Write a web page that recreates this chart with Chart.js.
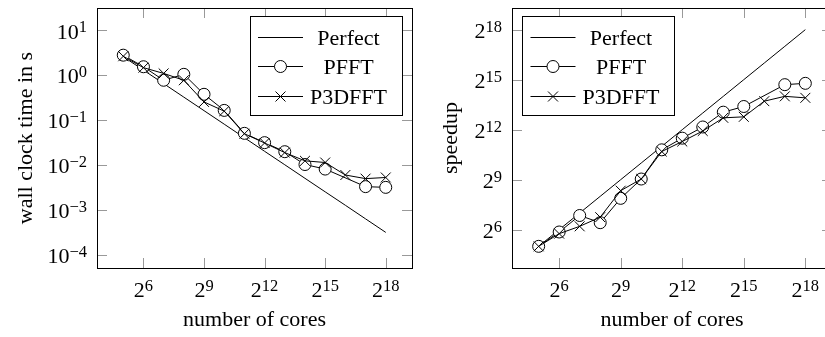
<!DOCTYPE html>
<html>
<head>
<meta charset="utf-8">
<script src="https://cdn.jsdelivr.net/npm/chart.js@4.4.0/dist/chart.umd.min.js"></script>
<style>
html, body { margin: 0; padding: 0; overflow: hidden; background: #fff; width: 825px; height: 337px; }
canvas { position: absolute; top: 0; }
#time-chart { left: 0; }
#speed-chart { left: 420px; }
</style>
</head>
<body>
<canvas id="time-chart" width="420" height="337"></canvas>
<canvas id="speed-chart" width="420" height="337"></canvas>
<script>
// number of cores, 2^5 .. 2^18
const cores = [32, 64, 128, 256, 512, 1024, 2048, 4096, 8192, 16384, 32768, 65536, 131072, 262144];

// wall clock time in s
const timePerfect = [2.55, 1.28, 0.64, 0.32, 0.16, 0.08, 0.0399, 0.0199, 0.00997, 0.00498, 0.00249, 0.00125, 0.000623, 0.000311];
const timePFFT = [2.75, 1.52, 0.76, 1.03, 0.37, 0.162, 0.050, 0.031, 0.0195, 0.0101, 0.0080, null, 0.00325, 0.00313];
const timeP3DFFT = [2.6, 1.45, 1.08, 0.76, 0.25, 0.156, 0.049, 0.0305, 0.0186, 0.0122, 0.0112, 0.0059, 0.0049, 0.0052];

// speedup
const speedPerfect = [32, 64, 128, 256, 512, 1024, 2048, 4096, 8192, 16384, 32768, 65536, 131072, 262144];
const speedPFFT = [32, 58.1, 115.4, 85.6, 235.6, 526, 1770, 2876, 4577, 8478, 10735, null, 26616, 28138];
const speedP3DFFT = [32, 54.2, 73.5, 107.6, 324, 526, 1652, 2504, 3875, 6700, 6984, 13400, 16384, 15392];

// tick labels: base and exponent
const coreTicks = [64, 512, 4096, 32768, 262144];
const coreTickLabels = [['2', '6'], ['2', '9'], ['2', '12'], ['2', '15'], ['2', '18']];
const timeTicks = [10, 1, 0.1, 0.01, 0.001, 0.0001];
const timeTickLabels = [['10', '1'], ['10', '0'], ['10', '\u22121'], ['10', '\u22122'], ['10', '\u22123'], ['10', '\u22124']];
const speedTicks = [64, 512, 4096, 32768, 262144];
const speedTickLabels = [['2', '6'], ['2', '9'], ['2', '12'], ['2', '15'], ['2', '18']];

const seriesNames = ['Perfect', 'PFFT', 'P3DFFT'];

const SERIF = '"Liberation Serif", "Times New Roman", serif';
const BASE_FONT = '22px ' + SERIF;
const EXP_FONT = '16.5px ' + SERIF;

function draw_pow(ctx, base, exp, x, y, align) {
    ctx.font = BASE_FONT;
    let wb = ctx.measureText(base).width;
    ctx.font = EXP_FONT;
    let we = ctx.measureText(exp).width;
    let start = x;
    if (align === 'right') start = x - wb - we;
    if (align === 'center') start = x - (wb + we) / 2;
    ctx.textAlign = 'left';
    ctx.textBaseline = 'alphabetic';
    ctx.font = BASE_FONT;
    ctx.fillText(base, start, y);
    ctx.font = EXP_FONT;
    ctx.fillText(exp, start + wb, y - 6.5);
}

function draw_marker(ctx, style, x, y) {
    ctx.save();
    ctx.strokeStyle = '#000';
    ctx.lineWidth = 1;
    if (style === 'circle') {
        ctx.fillStyle = '#fff';
        ctx.beginPath();
        ctx.arc(x, y, 6, 0, Math.PI * 2);
        ctx.fill();
        ctx.stroke();
    } else if (style === 'crossRot') {
        let d = 5;
        ctx.beginPath();
        ctx.moveTo(x - d, y - d); ctx.lineTo(x + d, y + d);
        ctx.moveTo(x - d, y + d); ctx.lineTo(x + d, y - d);
        ctx.stroke();
    }
    ctx.restore();
}

const pgfAxes = {
    id: 'pgfAxes',
    beforeDatasetsDraw(chart, args, opts) {
        const ctx = chart.ctx;
        const a = chart.chartArea;
        const xs = chart.scales.x, ys = chart.scales.y;
        ctx.save();
        ctx.strokeStyle = '#999';
        ctx.lineWidth = 1;
        ctx.beginPath();
        opts.xTicks.forEach(v => {
            let px = Math.round(xs.getPixelForValue(v)) + 0.5;
            ctx.moveTo(px, a.bottom); ctx.lineTo(px, a.bottom - 10);
            ctx.moveTo(px, a.top); ctx.lineTo(px, a.top + 10);
        });
        opts.yTicks.forEach(v => {
            let py = Math.round(ys.getPixelForValue(v)) + 0.5;
            ctx.moveTo(a.left, py); ctx.lineTo(a.left + 10, py);
            ctx.moveTo(a.right, py); ctx.lineTo(a.right - 10, py);
        });
        ctx.stroke();
        ctx.restore();
    },
    afterDraw(chart, args, opts) {
        const ctx = chart.ctx;
        const a = chart.chartArea;
        const xs = chart.scales.x, ys = chart.scales.y;
        ctx.save();
        // axis box
        ctx.strokeStyle = '#000';
        ctx.lineWidth = 1;
        ctx.strokeRect(a.left + 0.5, a.top + 0.5, a.right - a.left, a.bottom - a.top);

        ctx.fillStyle = '#000';
        // tick labels
        opts.xTicks.forEach((v, i) => {
            draw_pow(ctx, opts.xLabels[i][0], opts.xLabels[i][1], xs.getPixelForValue(v), 297, 'center');
        });
        opts.yTicks.forEach((v, i) => {
            draw_pow(ctx, opts.yLabels[i][0], opts.yLabels[i][1], a.left - 10, ys.getPixelForValue(v) + 8.5, 'right');
        });

        // axis titles
        ctx.font = BASE_FONT;
        ctx.textAlign = 'center';
        ctx.textBaseline = 'alphabetic';
        ctx.fillText(opts.xTitle, (a.left + a.right) / 2, 326);
        ctx.save();
        ctx.translate(opts.yTitleX, (a.top + a.bottom) / 2);
        ctx.rotate(-Math.PI / 2);
        ctx.fillText(opts.yTitle, 0, 0);
        ctx.restore();

        // legend
        const lw = 152, lh = 99;
        const lx = opts.legendRight ? a.right - 10.5 - lw : a.left + 10;
        const ly = a.top + 8;
        ctx.fillStyle = '#fff';
        ctx.fillRect(lx, ly, lw, lh);
        ctx.strokeStyle = '#000';
        ctx.strokeRect(Math.round(lx) + 0.5, Math.round(ly) + 0.5, lw, lh);
        const rows = [20.5, 50, 80];
        chart.data.datasets.forEach((ds, i) => {
            let ry = Math.round(ly + rows[i]) + 0.5;
            ctx.strokeStyle = '#000';
            ctx.beginPath();
            ctx.moveTo(lx + 8.5, ry); ctx.lineTo(lx + 53.5, ry);
            ctx.stroke();
            if (ds.pointRadius > 0) draw_marker(ctx, ds.pointStyle, lx + 31, ry);
            ctx.fillStyle = '#000';
            ctx.font = BASE_FONT;
            ctx.textAlign = 'center';
            ctx.fillText(ds.label, lx + 99, ry + 7.5);
        });
        ctx.restore();
    }
};

function make_datasets(perfect, pfft, p3dfft) {
    return [
        {
            label: seriesNames[0],
            data: cores.map((c, i) => ({ x: c, y: perfect[i] })),
            borderColor: '#000', borderWidth: 1, pointRadius: 0, order: 3
        },
        {
            label: seriesNames[1],
            data: cores.map((c, i) => ({ x: c, y: pfft[i] })),
            borderColor: '#000', borderWidth: 1, spanGaps: true,
            pointStyle: 'circle', pointRadius: 6, pointBackgroundColor: '#fff',
            pointBorderColor: '#000', pointBorderWidth: 1, order: 2
        },
        {
            label: seriesNames[2],
            data: cores.map((c, i) => ({ x: c, y: p3dfft[i] })),
            borderColor: '#000', borderWidth: 1, spanGaps: true,
            pointStyle: 'crossRot', pointRadius: 7, pointBorderColor: '#000',
            pointBorderWidth: 1, order: 1
        }
    ];
}

function make_chart(id, datasets, yMin, yMax, padding, axesOpts) {
    return new Chart(document.getElementById(id), {
        type: 'line',
        data: { datasets: datasets },
        options: {
            responsive: false,
            animation: false,
            devicePixelRatio: 1,
            layout: { padding: padding },
            scales: {
                x: { type: 'logarithmic', display: false, min: Math.pow(2, 3.7), max: Math.pow(2, 19.3) },
                y: { type: 'logarithmic', display: false, min: yMin, max: yMax }
            },
            plugins: {
                legend: { display: false },
                tooltip: { enabled: false },
                pgfAxes: axesOpts
            }
        },
        plugins: [pgfAxes]
    });
}

make_chart('time-chart', make_datasets(timePerfect, timePFFT, timeP3DFFT),
    Math.pow(10, -4.3), Math.pow(10, 1.49),
    { left: 97, top: 6, right: 1, bottom: 69 },
    {
        xTicks: coreTicks, xLabels: coreTickLabels,
        yTicks: timeTicks, yLabels: timeTickLabels,
        xTitle: 'number of cores', yTitle: 'wall clock time in s', yTitleX: 32,
        legendRight: true
    });

make_chart('speed-chart', make_datasets(speedPerfect, speedPFFT, speedP3DFFT),
    Math.pow(2, 3.7), Math.pow(2, 19.3),
    { left: 92, top: 6, right: 6, bottom: 69 },
    {
        xTicks: coreTicks, xLabels: coreTickLabels,
        yTicks: speedTicks, yLabels: speedTickLabels,
        xTitle: 'number of cores', yTitle: 'speedup', yTitleX: 37,
        legendRight: false
    });
</script>
</body>
</html>
